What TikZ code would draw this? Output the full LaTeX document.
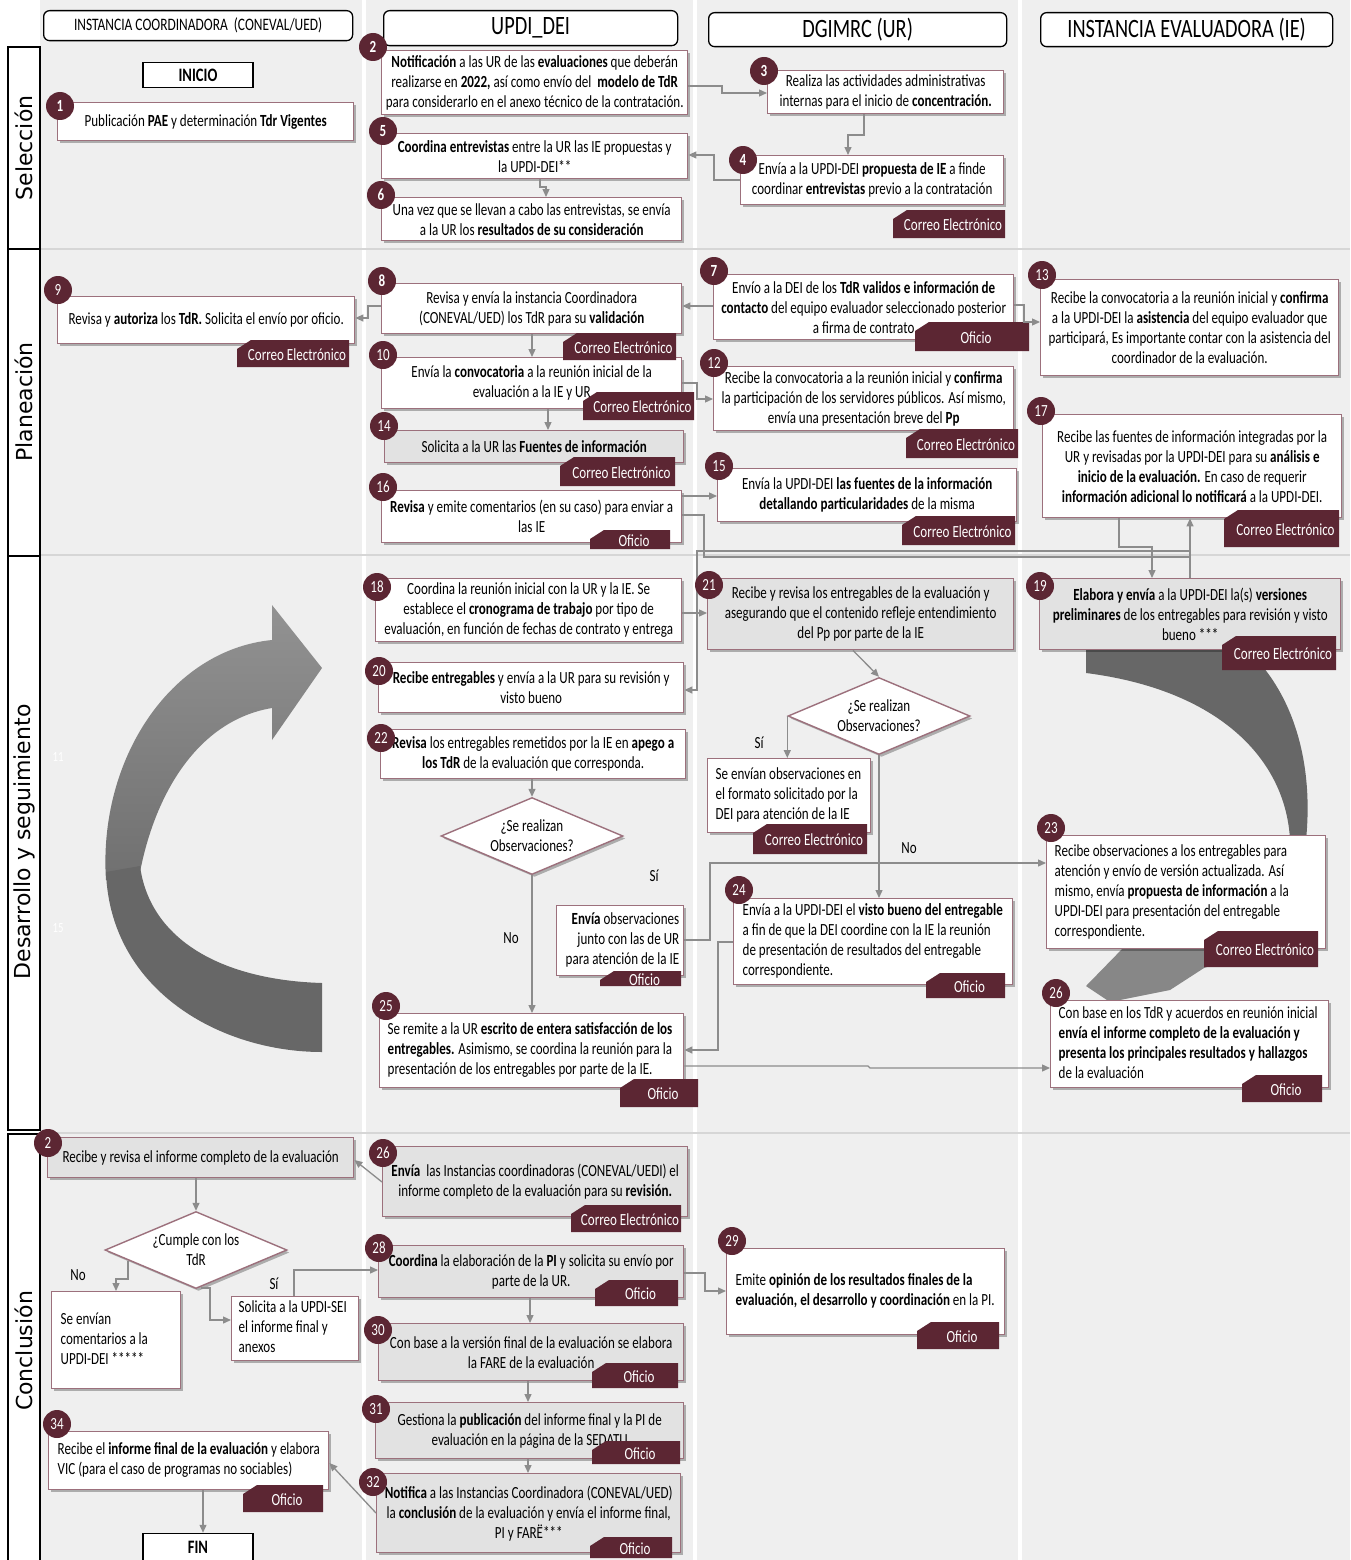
\documentclass[tikz,border=0pt]{standalone}
\usepackage{fontspec}
\setmainfont{Carlito}[FakeStretch=0.767]
\newfontfamily\lanefont{DejaVu Sans}
\usetikzlibrary{shapes.geometric,shadows,arrows.meta}

\definecolor{bgc}{HTML}{EFEFEF}
\definecolor{mrn}{HTML}{5C2633}
\definecolor{boxln}{HTML}{9C707C}
\definecolor{gfill}{HTML}{E2E2E2}
\definecolor{lineg}{HTML}{8C8C8C}
\definecolor{arrlight}{HTML}{878787}
\definecolor{arrdark}{HTML}{676767}
\definecolor{arrtop}{HTML}{929292}
\definecolor{arrbot}{HTML}{707070}
\definecolor{sepg}{HTML}{D6D6D6}

% box from corner (#2,#3) to corner (#4,#5), style #6, text #7
\newcommand{\bx}[7]{%
  \pgfmathsetmacro{\bxw}{#4-#2}%
  \pgfmathsetmacro{\bxh}{#5-#3}%
  \node[#6, minimum width=\bxw pt, minimum height=\bxh pt, anchor=north west] (#1) at (#2,#3) {#7};%
}
% channel tag with a cut corner
\newcommand{\tg}[6]{%
  \fill[mrn] (#2,#3+9) -- (#2+14,#3) -- (#4,#3) -- (#4,#5) -- (#2,#5) -- cycle;
  \node[tagtxt] (#1) at ({(#2+#4)/2+4},{(#3+#5)/2+1}) {#6};%
}
% flush-left and flush-right line blocks that never rewrap, with the font's own word spacing
\newcommand{\leftlines}[1]{\spaceskip=0pt\xspaceskip=0pt\begin{tabular}{@{}l@{}}#1\end{tabular}}
\newcommand{\rightlines}[1]{\spaceskip=0pt\xspaceskip=0pt\begin{tabular}{@{}r@{}}#1\end{tabular}}

\begin{document}
\begin{tikzpicture}[x=1pt,y=-1pt,
  box/.style={draw=boxln, line width=1.4pt, fill=white, inner sep=2pt, align=center,
    font=\fontsize{17}{20}\selectfont,
    drop shadow={shadow xshift=2.5pt, shadow yshift=-2.5pt, fill=black, opacity=.28}},
  gbox/.style={box, fill=gfill},
  lbox/.style={box, text width=#1, align=left},
  num/.style={circle, fill=mrn, text=white, minimum size=28pt, inner sep=0pt, font=\fontsize{17}{17}\selectfont},
  dec/.style={diamond, draw=boxln, line width=1.4pt, fill=white, aspect=2.4, inner sep=1pt,
    minimum width=182pt, minimum height=77pt, align=center, font=\fontsize{17}{20}\selectfont,
    drop shadow={shadow xshift=2.5pt, shadow yshift=-2.5pt, fill=black, opacity=.28}},
  conn/.style={draw=lineg, line width=1.3pt, -{Triangle[length=8pt,width=7pt]}},
  wire/.style={draw=lineg, line width=1.3pt},
  head/.style={draw=black, line width=1.3pt, fill=white, rounded corners=6pt, inner sep=1pt},
  term/.style={draw=black, line width=1.5pt, fill=white, font=\fontsize{19}{19}\selectfont\bfseries,
    minimum width=110pt, minimum height=25pt},
  lanecell/.style={draw=black, line width=1.8pt, fill=white},
  lane/.style={rotate=90, font=\lanefont\fontsize{22}{22}\selectfont},
  lbl/.style={font=\fontsize{17}{17}\selectfont, inner sep=0pt},
  tagtxt/.style={text=white, font=\fontsize{17}{17}\selectfont, inner sep=0pt},
]
\useasboundingbox (0,0) rectangle (1350,1560);

% ---------- background, columns and phase separators
\fill[white] (0,0) rectangle (1350,1560);
\fill[bgc] (40,0) rectangle (1350,1560);
\foreach \xx in {362,693,1018}{\fill[white] (\xx,0) rectangle (\xx+4,1560);}
\foreach \yy in {249,555,1133}{\draw[sepg, line width=2pt] (40,\yy) -- (1350,\yy);}

% ---------- phase cells
\draw[lanecell] (8,47) rectangle (40,249);
\draw[lanecell] (8,249) rectangle (40,556);
\draw[lanecell] (8,556) rectangle (40,1130);
\draw[lanecell] (8,1134) rectangle (40,1566);
\node[lane] (lsel) at (24,148) {Selección};
\node[lane] (lpla) at (24,402) {Planeación};
\node[lane] (ldes) at (24,842) {Desarrollo y seguimiento};
\node[lane] (lcon) at (24,1351) {Conclusión};

% ---------- column headers
\bx{h1}{43}{10}{352}{40}{head, font=\fontsize{17.5}{18}\selectfont}{INSTANCIA COORDINADORA \ (CONEVAL/UED)}
\bx{h2}{383}{10}{677}{45}{head, font=\fontsize{26.5}{27}\selectfont}{UPDI\_DEI}
\bx{h3}{708}{12}{1006}{46}{head, font=\fontsize{26.5}{27}\selectfont}{DGIMRC (UR)}
\bx{h4}{1040}{12}{1332}{46}{head, font=\fontsize{26.5}{27}\selectfont}{INSTANCIA EVALUADORA (IE)}

% ---------- large curved arrows (drawn behind the boxes)
\shade[top color=arrtop, bottom color=arrbot]
  (106,880) .. controls (98,760) and (170,650) .. (272,640) -- (272,605) -- (322,668)
  -- (272,740) -- (272,708) .. controls (200,720) and (156,790) .. (140,872) -- cycle;
\fill[arrdark] (106,872) .. controls (110,990) and (220,1052) .. (322,1052) -- (322,983)
  .. controls (222,980) and (150,940) .. (140,866) -- cycle;
\fill[arrdark] (1086,648) -- (1245,648) .. controls (1292,690) and (1314,760) .. (1306,840)
  -- (1290,840) .. controls (1286,760) and (1220,690) .. (1086,673) -- cycle;
\fill[arrlight] (1306,835) .. controls (1308,900) and (1262,950) .. (1204,968) -- (1170,990)
  -- (1110,1002) -- (1086,986) -- (1125,946) -- (1200,935) .. controls (1262,915) and (1290,880) .. (1290,835) -- cycle;

\node[text=white, font=\fontsize{14}{14}\selectfont] (f11) at (58,757) {11};
\node[text=white, font=\fontsize{14}{14}\selectfont] (f15) at (58,928) {15};

% ---------- Selección
\node[term] (ini) at (198,75) {INICIO};
\bx{b1}{57}{102}{353}{140}{box}{Publicación \textbf{PAE} y determinación \textbf{Tdr Vigentes}}
\bx{b2}{381}{50}{687}{114}{box}{\textbf{Notificación} a las UR de las \textbf{evaluaciones} que deberán\\realizarse en \textbf{2022,} así como envío del \ \textbf{modelo de TdR}\\para considerarlo en el anexo técnico de la contratación.}
\bx{b3}{767}{70}{1003}{113}{box}{Realiza las actividades administrativas\\internas para el inicio de \textbf{concentración.}}
\bx{b5}{381}{133}{687}{178}{box}{\textbf{Coordina entrevistas} entre la UR las IE propuestas y\\la UPDI-DEI**}
\bx{b4}{740}{155}{1003}{204}{box}{Envía a la UPDI-DEI \textbf{propuesta de IE} a finde\\coordinar \textbf{entrevistas} previo a la contratación}
\bx{b6}{381}{197}{681}{240}{box}{Una vez que se llevan a cabo las entrevistas, se envía\\a la UR los \textbf{resultados de su consideración}}
\tg{t4}{893}{210}{1005}{238}{Correo Electrónico}

\draw[conn] (b2.east |- 0,86) -- (722,86) -- (722,93) -- (b3.west |- 0,93);
\draw[conn] (b3.south -| 864,0) -- (864,135) -- (848,135) -- (b4.north -| 848,0);
\draw[conn] (b4.west |- 0,180) -- (714,180) -- (714,155) -- (b5.east |- 0,155);
\draw[conn] (b5.south -| 540,0) -- (540,187) -- (546,187) -- (b6.north -| 546,0);

% ---------- Planeación
\bx{b9}{57}{296}{354}{343}{box}{Revisa y \textbf{autoriza} los \textbf{TdR.} Solicita el envío por oficio.}
\bx{b8}{381}{283}{681}{333}{box}{Revisa y envía la instancia Coordinadora\\(CONEVAL/UED) los TdR para su \textbf{validación}}
\bx{b10}{381}{357}{681}{408}{box}{Envía la \textbf{convocatoria} a la reunión inicial de la\\evaluación a la IE y UR}
\bx{b14}{384}{430}{683}{462}{gbox}{Solicita a la UR las \textbf{Fuentes de información}}
\bx{b16}{381}{490}{681}{542}{box}{\textbf{Revisa} y emite comentarios (en su caso) para enviar a\\las IE}
\bx{b7}{713}{274}{1013}{339}{box}{Envío a la DEI de los \textbf{TdR validos e información de}\\\textbf{contacto} del equipo evaluador seleccionado posterior\\a firma de contrato}
\bx{b12}{713}{366}{1013}{430}{box}{Recibe la convocatoria a la reunión inicial y \textbf{confirma}\\la participación de los servidores públicos. Así mismo,\\envía una presentación breve del \textbf{Pp}}
\bx{b15}{717}{468}{1016}{521}{box}{Envía la UPDI-DEI \textbf{las fuentes de la información}\\\textbf{detallando particularidades} de la misma}
\bx{b13}{1040}{279}{1338}{375}{box}{Recibe la convocatoria a la reunión inicial y \textbf{confirma}\\a la UPDI-DEI la \textbf{asistencia} del equipo evaluador que\\participará, Es importante contar con la asistencia del\\coordinador de la evaluación.}
\bx{b17}{1042}{414}{1341}{517}{box}{Recibe las fuentes de información integradas por la\\UR y revisadas por la UPDI-DEI para su \textbf{análisis e}\\\textbf{inicio de la evaluación.} En caso de requerir\\\textbf{información adicional lo notificará} a la UPDI-DEI.}
\tg{t9}{237}{340}{349}{367}{Correo Electrónico}
\tg{t8}{563}{333}{676}{360}{Correo Electrónico}
\tg{t10}{583}{392}{694}{420}{Correo Electrónico}
\tg{t14}{560}{457}{675}{486}{Correo Electrónico}
\tg{t16}{590}{530}{670}{549}{Oficio}
\tg{t7}{915}{322}{1029}{351}{Oficio}
\tg{t12}{906}{429}{1018}{458}{Correo Electrónico}
\tg{t15}{902}{516}{1015}{545}{Correo Electrónico}
\tg{t17}{1224}{510}{1339}{547}{Correo Electrónico}

\draw[conn] (b7.west |- 0,306) -- (b8.east |- 0,306);
\draw[conn] (b7.east |- 0,305) -- (1024,305) -- (1024,322) -- (b13.west |- 0,322);
\draw[conn] (b8.west |- 0,306) -- (368,306) -- (368,318) -- (b9.east |- 0,318);
\draw[conn] (b8.south -| 532,0) -- (b10.north -| 532,0);
\draw[conn] (b10.east |- 0,383) -- (697,383) -- (697,399) -- (b12.west |- 0,399);
\draw[conn] (b10.south -| 548,0) -- (b14.north -| 548,0);
\draw[conn] (b16.east |- 0,496) -- (b15.west |- 0,496);

% ---------- Desarrollo y seguimiento
\bx{b18}{375}{578}{681}{641}{box}{Coordina la reunión inicial con la UR y la IE. Se\\establece el \textbf{cronograma de trabajo} por tipo de\\evaluación, en función de fechas de contrato y entrega}
\bx{b20}{378}{662}{683}{712}{box}{\textbf{Recibe entregables} y envía a la UR para su revisión y\\visto bueno}
\bx{b22}{380}{729}{685}{778}{box}{\textbf{Revisa} los entregables remetidos por la IE en \textbf{apego a}\\\textbf{los TdR} de la evaluación que corresponda.}
\node[dec] (d1) at (532,836) {¿Se realizan\\Observaciones?};
\bx{bobs}{556}{905}{683}{975}{box, text width=109pt, align=right}{\rightlines{\textbf{Envía} observaciones\\junto con las de UR\\para atención de la IE}}
\bx{b25}{379}{1013}{683}{1087}{lbox=288pt}{\leftlines{Se remite a la UR \textbf{escrito de entera satisfacción de los}\\\textbf{entregables.} Asimismo, se coordina la reunión para la\\presentación de los entregables por parte de la IE.}}
\bx{b21}{707}{578}{1013}{649}{gbox}{Recibe y revisa los entregables de la evaluación y\\asegurando que el contenido refleje entendimiento\\del Pp por parte de la IE}
\node[dec] (d2) at (879,716) {¿Se realizan\\Observaciones?};
\bx{bsenv}{707}{758}{870}{832}{lbox=147pt}{\leftlines{Se envían observaciones en\\el formato solicitado por la\\DEI para atención de la IE}}
\bx{b24}{733}{898}{1012}{984}{lbox=261pt}{\leftlines{Envía a la UPDI-DEI el \textbf{visto bueno del entregable}\\a fin de que la DEI coordine con la IE la reunión\\de presentación de resultados del entregable\\correspondiente.}}
\bx{b19}{1039}{578}{1340}{649}{gbox}{\textbf{Elabora y envía} a la UPDI-DEI la(s) \textbf{versiones}\\\textbf{preliminares} de los entregables para revisión y visto\\bueno ***}
\bx{b23}{1046}{835}{1325}{948}{lbox=263pt}{\leftlines{Recibe observaciones a los entregables para\\atención y envío de versión actualizada. Así\\mismo, envía \textbf{propuesta de información} a la\\UPDI-DEI para presentación del entregable\\correspondiente.}}
\bx{b26}{1050}{1000}{1328}{1087}{lbox=262pt}{\leftlines{Con base en los TdR y acuerdos en reunión inicial\\\textbf{envía el informe completo de la evaluación y}\\\textbf{presenta los principales resultados y hallazgos}\\de la evaluación}}
\tg{tobs}{600}{971}{681}{986}{Oficio}
\tg{t25}{620}{1079}{698}{1107}{Oficio}
\tg{tsenv}{753}{824}{867}{854}{Correo Electrónico}
\tg{t24}{926}{973}{1005}{998}{Oficio}
\tg{t19}{1222}{636}{1336}{670}{Correo Electrónico}
\tg{t23}{1204}{931}{1318}{967}{Correo Electrónico}
\tg{t26}{1242}{1075}{1322}{1102}{Oficio}

% links between Planeación and Desarrollo
\draw[conn] (b16.east |- 0,515) -- (704,515) -- (704,557) -- (1190,557) -- (b17.south -| 1190,0);
\draw[wire] (b19.north -| 1190,0) -- (1190,557);
\draw[conn] (b17.south -| 1119,0) -- (1119,547) -- (1152,547) -- (b19.north -| 1152,0);
\draw[conn] (1190,551) -- (697,551) -- (697,690) -- (b20.east |- 0,690);
\draw[conn] (b18.east |- 0,613) -- (b21.west |- 0,613);

\draw[conn] (b22.south -| 532,0) -- (d1.north);
\draw[conn] (d1.south) -- (b25.north -| 532,0);
\draw[conn] (bobs.east |- 0,940) -- (710,940) -- (710,863) -- (b23.west |- 0,863);
\draw[conn] (b24.west |- 0,942) -- (718,942) -- (718,1050) -- (b25.east |- 0,1050);
\draw[conn] (b25.east |- 0,1066) -- (868,1066) -- (870,1068) -- (b26.west |- 0,1068);
\draw[conn] (b21.south -| 853,0) -- (d2.north);
\draw[conn] (d2.west) -- (bsenv.north -| d2.west);
\draw[conn] (d2.south) -- (b24.north -| d2.south);
\node[lbl] (s1) at (759,743) {Sí};
\node[lbl] (no1) at (909,848) {No};
\node[lbl] (s2) at (654,876) {Sí};
\node[lbl] (no2) at (511,938) {No};

% ---------- Conclusión
\bx{bc2}{47}{1137}{353}{1177}{gbox}{Recibe y revisa el informe completo de la evaluación}
\node[dec] (d3) at (196,1250) {¿Cumple con los\\TdR};
\bx{bcom}{51}{1291}{180}{1388}{lbox=111pt}{\leftlines{Se envían\\comentarios a la\\UPDI-DEI *****}}
\bx{bsol}{231}{1296}{358}{1358}{lbox=113pt}{\leftlines{Solicita a la UPDI-SEI\\el informe final y\\anexos}}
\bx{bc26}{382}{1146}{687}{1216}{gbox}{\textbf{Envía} \ las Instancias coordinadoras (CONEVAL/UEDI) el\\informe completo de la evaluación para su \textbf{revisión.}}
\bx{b28}{378}{1245}{683}{1297}{gbox}{\textbf{Coordina} la elaboración de la \textbf{PI} y solicita su envío por\\parte de la UR.}
\bx{b29}{726}{1248}{1004}{1334}{lbox=260pt}{\leftlines{Emite \textbf{opinión de los resultados finales de la}\\\textbf{evaluación, el desarrollo y coordinación} en la PI.}}
\bx{b30}{378}{1323}{683}{1380}{gbox}{Con base a la versión final de la evaluación se elabora\\la FARE de la evaluación}
\bx{b31}{375}{1402}{683}{1458}{gbox}{Gestiona la \textbf{publicación} del informe final y la PI de\\evaluación en la página de la SEDATU}
\bx{b32}{376}{1473}{680}{1552}{gbox}{\textbf{Notifica} a las Instancias Coordinadora (CONEVAL/UED)\\la \textbf{conclusión} de la evaluación y envía el informe final,\\PI y FARË***}
\bx{b34}{48}{1431}{328}{1489}{lbox=262pt}{\leftlines{Recibe el \textbf{informe final de la evaluación} y elabora\\VIC (para el caso de programas no sociables)}}
\node[term, minimum height=27pt] (fin) at (198,1547) {FIN};
\tg{tc26}{571}{1205}{681}{1232}{Correo Electrónico}
\tg{t28}{595}{1280}{678}{1306}{Oficio}
\tg{t29}{917}{1322}{999}{1349}{Oficio}
\tg{t30}{592}{1363}{678}{1388}{Oficio}
\tg{t31}{592}{1441}{680}{1464}{Oficio}
\tg{t32}{590}{1537}{672}{1558}{Oficio}
\tg{t34}{243}{1485}{323}{1512}{Oficio}

\draw[conn] (bc26.west |- 0,1182) -- (bc2.east |- 0,1160);
\draw[conn] (bc2.south -| 196,0) -- (d3.north);
\draw[conn] (128,1261) -- (128,1279) -- (116,1279) -- (bcom.north -| 116,0);
\draw[conn] (201,1288) -- (210,1288) -- (210,1320) -- (bsol.west |- 0,1320);
\draw[conn] (bsol.north -| 294,0) -- (294,1270) -- (b28.west |- 0,1270);
\draw[conn] (b28.east |- 0,1273) -- (705,1273) -- (705,1291) -- (b29.west |- 0,1291);
\draw[conn] (b28.south -| 530,0) -- (b30.north -| 530,0);
\draw[conn] (b30.south -| 528,0) -- (b31.north -| 528,0);
\draw[conn] (b31.south -| 528,0) -- (b32.north -| 528,0);
\draw[conn] (b32.west |- 0,1513) -- (b34.east |- 0,1463);
\draw[conn] (b34.south -| 203,0) -- (fin.north -| 203,0);
\node[lbl] (no3) at (78,1275) {No};
\node[lbl] (s3) at (274,1284) {Sí};

% ---------- step numbers
\begin{scope}[every node/.style={num}]
\node (n1) at (60,106) {\bfseries 1};
\node (n2) at (373,47) {\bfseries 2};
\node (n3) at (764,71) {\bfseries 3};
\node (n5) at (383,131) {\bfseries 5};
\node (n4) at (743,160) {\bfseries 4};
\node (n6) at (381,195) {\bfseries 6};
\node (n9) at (58,290) {9};
\node (n8) at (382,281) {\bfseries 8};
\node (n10) at (383,355) {10};
\node (n14) at (384,426) {14};
\node (n16) at (383,487) {16};
\node (n7) at (714,271) {\bfseries 7};
\node (n12) at (714,363) {12};
\node (n15) at (719,466) {15};
\node (n13) at (1042,275) {13};
\node (n17) at (1041,411) {17};
\node (n18) at (377,587) {18};
\node (n20) at (379,671) {20};
\node (n22) at (381,738) {22};
\node (n21) at (709,585) {21};
\node (n19) at (1040,586) {19};
\node (n23) at (1051,828) {23};
\node (n24) at (739,890) {24};
\node (n25) at (386,1006) {25};
\node (n26) at (1056,993) {26};
\node (nc2) at (48,1143) {2};
\node (nc26) at (383,1153) {26};
\node (n28) at (379,1248) {28};
\node (n29) at (732,1241) {29};
\node (n30) at (378,1330) {30};
\node (n31) at (376,1409) {31};
\node (n32) at (373,1482) {32};
\node (n34) at (57,1424) {34};
\end{scope}
\end{tikzpicture}
\end{document}
